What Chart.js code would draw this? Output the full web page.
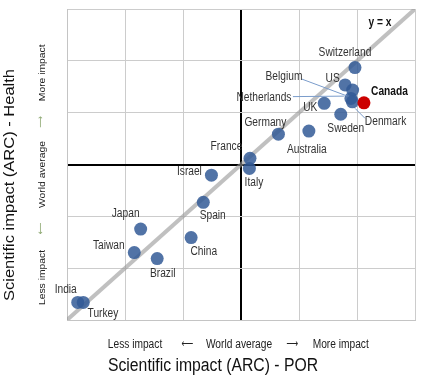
<!DOCTYPE html>
<html>
<head>
<meta charset="utf-8">
<script src="https://cdn.jsdelivr.net/npm/chart.js@4.4.1/dist/chart.umd.min.js"></script>
<style>
html,body{margin:0;padding:0;background:#fff;}
#wrap{width:423px;height:378px;position:relative;}
</style>
</head>
<body>
<div id="wrap"><canvas id="c" width="423" height="378"></canvas></div>
<script>
// ---- data ----
const countries = ['Switzerland','US','Belgium','Netherlands','Denmark','UK','Sweden','Germany','Australia','France','Italy','Israel','Spain','Japan','China','Taiwan','Brazil','India','Turkey','Canada'];
const porARC    = [1.393,1.359,1.385,1.379,1.384,1.287,1.344,1.129,1.234,1.031,1.029,0.898,0.870,0.654,0.828,0.632,0.711,0.437,0.456,1.424];
const healthARC = [1.374,1.307,1.287,1.255,1.242,1.236,1.194,1.117,1.129,1.024,0.985,0.959,0.854,0.751,0.718,0.660,0.637,0.468,0.468,1.238];
const highlight = 'Canada';
const axisMin = 0.4, axisMax = 1.6, axisStep = 0.2, worldAverage = 1.0;
const diagonalX = [0.4, 1.6];
const diagonalY = [0.4, 1.6];
const xTitle = 'Scientific impact (ARC) - POR';
const yTitle = 'Scientific impact (ARC) - Health';
const scaleWords = ['Less impact', '\u27F5', 'World average', '\u27F6', 'More impact'];
const diagonalLabel = 'y = x';

// ---- layout (label offsets in px from each point) ----
const labelOffsets = {
  Switzerland:[-10,-15], US:[-12.5,-6], Belgium:[-68.7,-13.3], Netherlands:[-87,-1],
  Denmark:[33.2,20], Canada:[25.5,-11], UK:[-14,4], Sweden:[5,14.7], Germany:[-13,-11.6],
  Australia:[-2,19], France:[-23.5,-11.6], Italy:[4.5,14], Israel:[-22,-3.3], Spain:[9.4,13.7],
  Japan:[-15,-15.7], China:[12.7,14], Taiwan:[-25.5,-7.4], Brazil:[5.5,15.3], India:[-12,-12.3], Turkey:[19.7,11.7]
};
// leader lines: [start offset from label centre], [end offset from point]
const leaders = {
  Belgium:[[18,2.3],[-6,5.7]],
  Netherlands:[[29,-0.8],[-7,-2.3]],
  Denmark:[[-20.5,-3.4],[2.7,6.6]]
};
const FONT = '"Liberation Sans", Arial, sans-serif';
const ARROW_FONT = '"DejaVu Sans", sans-serif';

function drawText(ctx, text, x, y, opt){
  ctx.save();
  ctx.translate(x, y);
  if (opt.rot) ctx.rotate(opt.rot);
  ctx.scale(opt.along || 1, opt.across || 1);
  ctx.font = opt.font;
  ctx.fillStyle = opt.color || '#333';
  ctx.textAlign = opt.align || 'center';
  ctx.textBaseline = opt.baseline || 'middle';
  ctx.fillText(text, 0, 0);
  ctx.restore();
}

const annotPlugin = {
  id: 'annot',
  afterDatasetsDraw(chart){
    const ctx = chart.ctx, xs = chart.scales.x, ys = chart.scales.y, ca = chart.chartArea;
    // leader lines
    ctx.save();
    ctx.strokeStyle = '#7a9ccb';
    ctx.lineWidth = 1;
    Object.keys(leaders).forEach(name => {
      const i = countries.indexOf(name);
      const px = xs.getPixelForValue(porARC[i]), py = ys.getPixelForValue(healthARC[i]);
      const lo = labelOffsets[name];
      const [s, e] = leaders[name];
      ctx.beginPath();
      ctx.moveTo(px + lo[0] + s[0], py + lo[1] + s[1]);
      ctx.lineTo(px + e[0], py + e[1]);
      ctx.stroke();
    });
    ctx.restore();
    // point labels
    countries.forEach((name, i) => {
      const px = xs.getPixelForValue(porARC[i]), py = ys.getPixelForValue(healthARC[i]);
      const o = labelOffsets[name];
      const bold = name === highlight;
      drawText(ctx, name, px + o[0], py + o[1], {
        font: (bold ? 'bold ' : '') + '12px ' + FONT,
        color: bold ? '#111' : '#333', along: 0.85
      });
    });
    // y = x
    drawText(ctx, diagonalLabel, ca.right - 35, ca.top + 14, {font:'bold 12px ' + FONT, color:'#111', along:0.85});

    const cx = xs.getPixelForValue(worldAverage);
    const cy = ys.getPixelForValue(worldAverage);
    // bottom scale words
    const bOff = [-106, -53.5, -2, 51.5, 99.7];
    scaleWords.forEach((w, k) => {
      const arrow = (k === 1 || k === 3);
      drawText(ctx, w, cx + bOff[k], arrow ? 344 : 347.7, {font: arrow ? '11px ' + ARROW_FONT : '12px ' + FONT, color: '#222', along: arrow ? 0.75 : 0.85, baseline: arrow ? 'middle' : 'alphabetic'});
    });
    // left scale words (rotated)
    const lOff = [113, 64, 10, -42.5, -91.7];
    scaleWords.forEach((w, k) => {
      const arrow = (k === 1 || k === 3);
      drawText(ctx, w, arrow ? 41 : 44.6, cy + lOff[k], {font: arrow ? '11px ' + ARROW_FONT : '12px ' + FONT, color: arrow ? '#8aa66e' : '#222', along: arrow ? 0.75 : 0.86, across: 0.83, rot: -Math.PI/2, baseline: arrow ? 'middle' : 'alphabetic'});
    });
    // titles
    drawText(ctx, xTitle, 213, 371, {font:'18px ' + FONT, color:'#111', along:0.875, baseline:'alphabetic'});
    drawText(ctx, yTitle, 13.7, 185, {font:'18px ' + FONT, color:'#111', along:0.917, across:0.78, rot:-Math.PI/2, baseline:'alphabetic'});
  }
};

const gridColor = ctx => (ctx.tick && Math.abs(ctx.tick.value - worldAverage) < 1e-6) ? '#000' : '#cccccc';
const gridWidth = ctx => (ctx.tick && Math.abs(ctx.tick.value - worldAverage) < 1e-6) ? 2 : 1;

new Chart(document.getElementById('c'), {
  type: 'scatter',
  data: {
    datasets: [
      {
        label: 'Countries',
        data: countries.map((c, i) => ({x: porARC[i], y: healthARC[i]})),
        backgroundColor: countries.map(c => c === highlight ? '#cc0000' : 'rgba(50,90,150,0.85)'),
        borderWidth: 0,
        pointRadius: 6.5,
        order: 1
      },
      {
        label: 'y = x',
        type: 'line',
        data: diagonalX.map((x, i) => ({x, y: diagonalY[i]})),
        borderColor: 'rgba(150,150,150,0.6)',
        borderWidth: 4,
        pointRadius: 0,
        fill: false,
        order: 2
      }
    ]
  },
  options: {
    responsive: false,
    animation: false,
    events: [],
    layout: {padding: {left: 67, top: 9, right: 8, bottom: 58}},
    plugins: {legend: {display: false}, tooltip: {enabled: false}},
    scales: {
      x: {
        type: 'linear', min: axisMin, max: axisMax,
        ticks: {display: false, stepSize: axisStep},
        grid: {color: gridColor, lineWidth: gridWidth, drawTicks: false},
        border: {display: true, color: '#c4c4c4', width: 1},
        afterFit(s){ s.height = 0; }
      },
      y: {
        type: 'linear', min: axisMin, max: axisMax,
        ticks: {display: false, stepSize: axisStep},
        grid: {color: gridColor, lineWidth: gridWidth, drawTicks: false},
        border: {display: true, color: '#c4c4c4', width: 1},
        afterFit(s){ s.width = 0; }
      }
    }
  },
  plugins: [annotPlugin]
});
</script>
</body>
</html>
